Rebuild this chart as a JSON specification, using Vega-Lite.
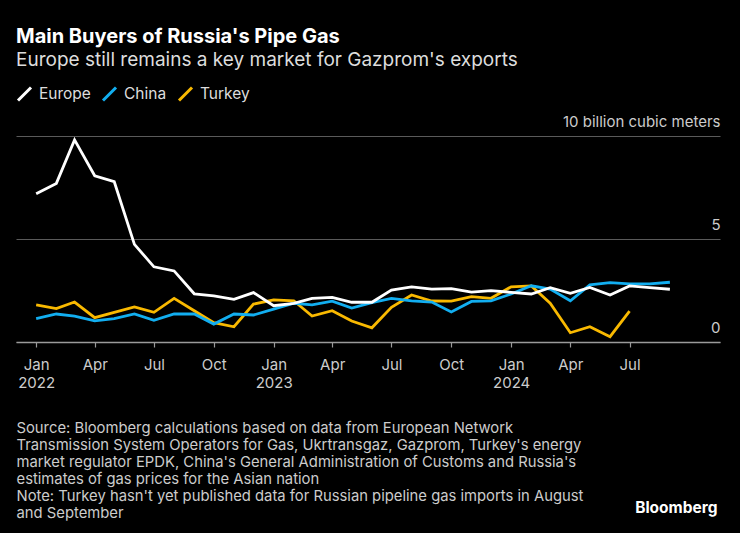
{
  "$schema": "https://vega.github.io/schema/vega-lite/v6.json",
  "width": 704,
  "height": 206,
  "autosize": {"type": "none"},
  "padding": {"left": 16, "top": 136, "right": 20, "bottom": 191},
  "background": "#000000",
  "config": {"font": "Inter", "view": {"stroke": null}},
  "title": {
    "text": "Main Buyers of Russia's Pipe Gas",
    "subtitle": "Europe still remains a key market for Gazprom's exports",
    "anchor": "start",
    "frame": "group",
    "font": "Inter",
    "fontSize": 20,
    "fontWeight": "bold",
    "color": "#ffffff",
    "subtitleFont": "Inter",
    "subtitleFontSize": 19,
    "subtitleColor": "#dddddd",
    "subtitlePadding": 4,
    "offset": 15
  },
  "data": {
    "values": [
      {"date": "2022-01-01", "series": "Turkey", "value": 1.80},
      {"date": "2022-02-01", "series": "Turkey", "value": 1.62},
      {"date": "2022-03-01", "series": "Turkey", "value": 1.94},
      {"date": "2022-04-01", "series": "Turkey", "value": 1.18},
      {"date": "2022-05-01", "series": "Turkey", "value": 1.44},
      {"date": "2022-06-01", "series": "Turkey", "value": 1.70},
      {"date": "2022-07-01", "series": "Turkey", "value": 1.44},
      {"date": "2022-08-01", "series": "Turkey", "value": 2.12},
      {"date": "2022-09-01", "series": "Turkey", "value": 1.52},
      {"date": "2022-10-01", "series": "Turkey", "value": 0.94},
      {"date": "2022-11-01", "series": "Turkey", "value": 0.74},
      {"date": "2022-12-01", "series": "Turkey", "value": 1.84},
      {"date": "2023-01-01", "series": "Turkey", "value": 2.04},
      {"date": "2023-02-01", "series": "Turkey", "value": 2.00},
      {"date": "2023-03-01", "series": "Turkey", "value": 1.26},
      {"date": "2023-04-01", "series": "Turkey", "value": 1.52},
      {"date": "2023-05-01", "series": "Turkey", "value": 1.02},
      {"date": "2023-06-01", "series": "Turkey", "value": 0.69},
      {"date": "2023-07-01", "series": "Turkey", "value": 1.68},
      {"date": "2023-08-01", "series": "Turkey", "value": 2.28},
      {"date": "2023-09-01", "series": "Turkey", "value": 1.99},
      {"date": "2023-10-01", "series": "Turkey", "value": 1.98},
      {"date": "2023-11-01", "series": "Turkey", "value": 2.20},
      {"date": "2023-12-01", "series": "Turkey", "value": 2.12},
      {"date": "2024-01-01", "series": "Turkey", "value": 2.68},
      {"date": "2024-02-01", "series": "Turkey", "value": 2.72},
      {"date": "2024-03-01", "series": "Turkey", "value": 1.88},
      {"date": "2024-04-01", "series": "Turkey", "value": 0.45},
      {"date": "2024-05-01", "series": "Turkey", "value": 0.74},
      {"date": "2024-06-01", "series": "Turkey", "value": 0.26},
      {"date": "2024-07-01", "series": "Turkey", "value": 1.50},
      {"date": "2022-01-01", "series": "China", "value": 1.13},
      {"date": "2022-02-01", "series": "China", "value": 1.36},
      {"date": "2022-03-01", "series": "China", "value": 1.26},
      {"date": "2022-04-01", "series": "China", "value": 1.03},
      {"date": "2022-05-01", "series": "China", "value": 1.13},
      {"date": "2022-06-01", "series": "China", "value": 1.36},
      {"date": "2022-07-01", "series": "China", "value": 1.05},
      {"date": "2022-08-01", "series": "China", "value": 1.36},
      {"date": "2022-09-01", "series": "China", "value": 1.36},
      {"date": "2022-10-01", "series": "China", "value": 0.87},
      {"date": "2022-11-01", "series": "China", "value": 1.36},
      {"date": "2022-12-01", "series": "China", "value": 1.31},
      {"date": "2023-01-01", "series": "China", "value": 1.60},
      {"date": "2023-02-01", "series": "China", "value": 1.88},
      {"date": "2023-03-01", "series": "China", "value": 1.80},
      {"date": "2023-04-01", "series": "China", "value": 1.98},
      {"date": "2023-05-01", "series": "China", "value": 1.65},
      {"date": "2023-06-01", "series": "China", "value": 1.91},
      {"date": "2023-07-01", "series": "China", "value": 2.12},
      {"date": "2023-08-01", "series": "China", "value": 2.00},
      {"date": "2023-09-01", "series": "China", "value": 1.94},
      {"date": "2023-10-01", "series": "China", "value": 1.46},
      {"date": "2023-11-01", "series": "China", "value": 1.97},
      {"date": "2023-12-01", "series": "China", "value": 2.00},
      {"date": "2024-01-01", "series": "China", "value": 2.33},
      {"date": "2024-02-01", "series": "China", "value": 2.73},
      {"date": "2024-03-01", "series": "China", "value": 2.57},
      {"date": "2024-04-01", "series": "China", "value": 2.00},
      {"date": "2024-05-01", "series": "China", "value": 2.77},
      {"date": "2024-06-01", "series": "China", "value": 2.88},
      {"date": "2024-07-01", "series": "China", "value": 2.82},
      {"date": "2024-08-01", "series": "China", "value": 2.82},
      {"date": "2024-09-01", "series": "China", "value": 2.90},
      {"date": "2022-01-01", "series": "Europe", "value": 7.20},
      {"date": "2022-02-01", "series": "Europe", "value": 7.70},
      {"date": "2022-03-01", "series": "Europe", "value": 9.81},
      {"date": "2022-04-01", "series": "Europe", "value": 8.07},
      {"date": "2022-05-01", "series": "Europe", "value": 7.78},
      {"date": "2022-06-01", "series": "Europe", "value": 4.74},
      {"date": "2022-07-01", "series": "Europe", "value": 3.65},
      {"date": "2022-08-01", "series": "Europe", "value": 3.45},
      {"date": "2022-09-01", "series": "Europe", "value": 2.34},
      {"date": "2022-10-01", "series": "Europe", "value": 2.24},
      {"date": "2022-11-01", "series": "Europe", "value": 2.07},
      {"date": "2022-12-01", "series": "Europe", "value": 2.40},
      {"date": "2023-01-01", "series": "Europe", "value": 1.76},
      {"date": "2023-02-01", "series": "Europe", "value": 1.88},
      {"date": "2023-03-01", "series": "Europe", "value": 2.12},
      {"date": "2023-04-01", "series": "Europe", "value": 2.17},
      {"date": "2023-05-01", "series": "Europe", "value": 1.93},
      {"date": "2023-06-01", "series": "Europe", "value": 1.93},
      {"date": "2023-07-01", "series": "Europe", "value": 2.52},
      {"date": "2023-08-01", "series": "Europe", "value": 2.68},
      {"date": "2023-09-01", "series": "Europe", "value": 2.57},
      {"date": "2023-10-01", "series": "Europe", "value": 2.59},
      {"date": "2023-11-01", "series": "Europe", "value": 2.42},
      {"date": "2023-12-01", "series": "Europe", "value": 2.49},
      {"date": "2024-01-01", "series": "Europe", "value": 2.41},
      {"date": "2024-02-01", "series": "Europe", "value": 2.33},
      {"date": "2024-03-01", "series": "Europe", "value": 2.64},
      {"date": "2024-04-01", "series": "Europe", "value": 2.36},
      {"date": "2024-05-01", "series": "Europe", "value": 2.65},
      {"date": "2024-06-01", "series": "Europe", "value": 2.28},
      {"date": "2024-07-01", "series": "Europe", "value": 2.72},
      {"date": "2024-08-01", "series": "Europe", "value": 2.64},
      {"date": "2024-09-01", "series": "Europe", "value": 2.56}
    ]
  },
  "mark": {"type": "line", "strokeWidth": 2.8, "strokeJoin": "miter"},
  "encoding": {
    "x": {
      "field": "date",
      "type": "temporal",
      "scale": {
        "type": "utc",
        "domain": [
          {"year": 2021, "month": 12, "date": 1, "utc": true},
          {"year": 2024, "month": 11, "date": 17, "utc": true}
        ]
      },
      "axis": {
        "values": [
          {"year": 2022, "month": 1, "date": 1, "utc": true},
          {"year": 2022, "month": 4, "date": 1, "utc": true},
          {"year": 2022, "month": 7, "date": 1, "utc": true},
          {"year": 2022, "month": 10, "date": 1, "utc": true},
          {"year": 2023, "month": 1, "date": 1, "utc": true},
          {"year": 2023, "month": 4, "date": 1, "utc": true},
          {"year": 2023, "month": 7, "date": 1, "utc": true},
          {"year": 2023, "month": 10, "date": 1, "utc": true},
          {"year": 2024, "month": 1, "date": 1, "utc": true},
          {"year": 2024, "month": 4, "date": 1, "utc": true},
          {"year": 2024, "month": 7, "date": 1, "utc": true}
        ],
        "labelExpr": "utcmonth(datum.value) == 0 ? [utcFormat(datum.value, '%b'), utcFormat(datum.value, '%Y')] : utcFormat(datum.value, '%b')",
        "labelFont": "Inter",
        "labelFontSize": 15,
        "labelColor": "#cccccc",
        "labelLineHeight": 18,
        "labelBaseline": "top",
        "labelPadding": 10,
        "labelFlush": false,
        "labelOverlap": false,
        "grid": false,
        "domainColor": "#9a9a9a",
        "domainWidth": 1.5,
        "tickColor": "#9a9a9a",
        "tickSize": 5,
        "tickWidth": 1.2,
        "title": [
          "Source: Bloomberg calculations based on data from European Network",
          "Transmission System Operators for Gas, Ukrtransgaz, Gazprom, Turkey's energy",
          "market regulator EPDK, China's General Administration of Customs and Russia's",
          "estimates of gas prices for the Asian nation",
          "Note: Turkey hasn't yet published data for Russian pipeline gas imports in August",
          "and September"
        ],
        "titleFont": "Inter",
        "titleFontSize": 14.8,
        "titleFontWeight": "normal",
        "titleColor": "#cccccc",
        "titleLineHeight": 17,
        "titleAnchor": "start",
        "titleAlign": "left",
        "titleBaseline": "top",
        "titleX": 0,
        "titleY": 78
      }
    },
    "y": {
      "field": "value",
      "type": "quantitative",
      "scale": {"domain": [0, 10]},
      "axis": {
        "orient": "right",
        "values": [0, 5, 10],
        "labelExpr": "datum.value == 10 ? '10 billion cubic meters' : datum.label",
        "labelFont": "Inter",
        "labelFontSize": 15,
        "labelColor": "#cccccc",
        "labelAlign": "right",
        "labelBaseline": "alphabetic",
        "labelOffset": -10,
        "labelPadding": 0,
        "ticks": false,
        "tickSize": 0,
        "domain": false,
        "grid": true,
        "gridColor": "#5a5a5a",
        "gridWidth": 1.2,
        "title": "Bloomberg",
        "titleFont": "Inter",
        "titleFontSize": 15.5,
        "titleFontWeight": "bold",
        "titleColor": "#ffffff",
        "titleAngle": 0,
        "titleAlign": "right",
        "titleBaseline": "middle",
        "titleX": -3,
        "titleY": 371
      }
    },
    "color": {
      "field": "series",
      "type": "nominal",
      "scale": {
        "domain": ["Europe", "China", "Turkey"],
        "range": ["#ffffff", "#12aef0", "#f9b900"]
      },
      "legend": {
        "orient": "none",
        "legendX": 0,
        "legendY": -51,
        "direction": "horizontal",
        "title": null,
        "symbolType": "M-1,1L1,-1",
        "symbolSize": 170,
        "symbolStrokeWidth": 3,
        "labelFont": "Inter",
        "labelFontSize": 15.5,
        "labelColor": "#dddddd",
        "labelOffset": 6,
        "columnPadding": 5
      }
    }
  }
}
